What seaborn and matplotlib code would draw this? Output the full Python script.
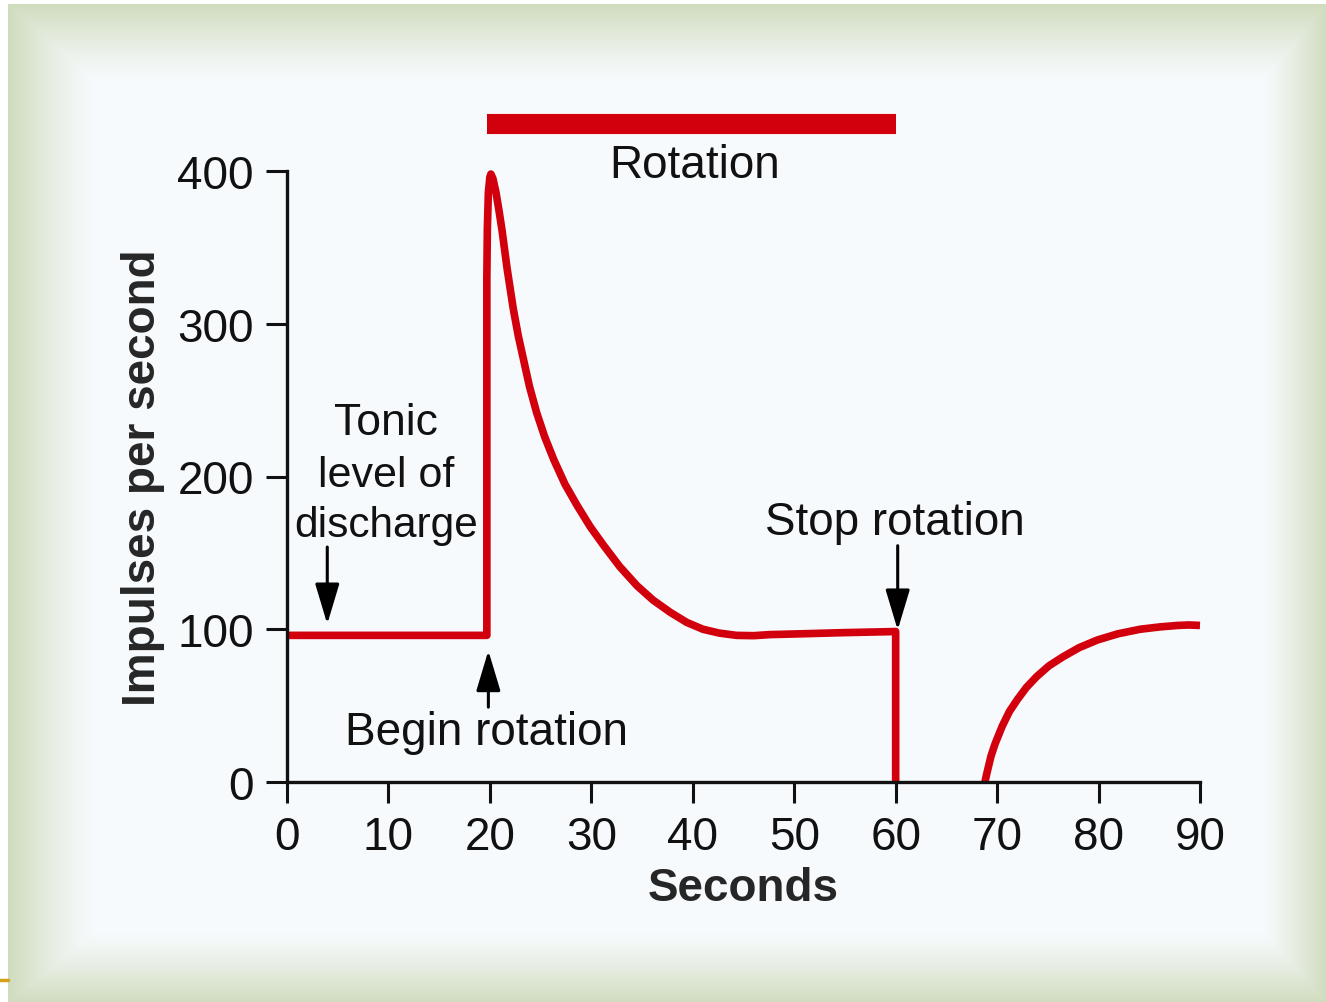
import numpy as np
import pandas as pd
import matplotlib
matplotlib.use("Agg")
import matplotlib.pyplot as plt
from matplotlib.lines import Line2D
import seaborn as sns

# ---- data ----
# segment 1: tonic level, response to rotation start, adaptation, stop
resp_t = [0, 19.7, 19.7, 19.7, 19.75, 19.85, 20.0, 20.1, 20.3, 20.6, 20.9,
          21.2, 21.7, 22.3, 22.8, 23.3, 23.9, 24.6, 25.4, 26.3, 27.4, 28.6,
          29.9, 31.2, 32.8, 34.5, 36.1, 37.8, 39.4, 41.0, 42.6, 44.3, 46.0,
          47.6, 50.6, 55.0, 60.0, 60.0]
resp_rate = [96, 96, 200, 330, 362, 386, 396, 398, 395, 386, 374,
             361, 336, 310, 292, 277, 259, 242, 226, 211, 195, 181,
             167, 155, 141, 128.5, 119, 111, 104.5, 100, 97.5, 96, 95.8,
             96.5, 97, 97.8, 98.5, 0]
# segment 2: recovery after rotation stops
rec_t = [68.8, 69.0, 69.4, 69.8, 70.5, 71.2, 72.0, 72.9, 73.9, 75.1, 76.5,
         78.1, 79.9, 81.9, 84.1, 86.0, 87.8, 88.9, 90.0]
rec_rate = [0, 6, 17, 25, 36.5, 46, 54, 62, 69, 76, 82,
            88, 93, 97, 100, 101.5, 102.5, 102.8, 102.5]

rotation_span = [19.7, 60.0]
rotation_level = 431

x_ticks = [0, 10, 20, 30, 40, 50, 60, 70, 80, 90]
y_ticks = [0, 100, 200, 300, 400]

RED = "#d2000c"
FONT = ["Liberation Sans", "DejaVu Sans"]
FS = 33

sns.set_style("ticks")
plt.rcParams["font.family"] = FONT

W, H = 1326, 1003
fig = plt.figure(figsize=(W / 100, H / 100), dpi=100)

# ---- background frame with green gradient ----
yy, xx = np.mgrid[0:H, 0:W].astype(float)
fl = np.clip((93 - xx) / (93 - 8), 0, 1)
ft = np.clip((80 - yy) / (80 - 5), 0, 1)
fr = np.clip((xx - 1263) / (W - 1263), 0, 1)
fb = np.clip((yy - 933) / (H - 933), 0, 1)
f = np.maximum.reduce([fl, ft, fr, fb]) ** 1.2
inner = np.array([247, 250, 252]) / 255
green = np.array([208, 220, 190]) / 255
img = inner[None, None, :] * (1 - f[..., None]) + green[None, None, :] * f[..., None]
white = (xx < 8) | (yy < 5)
img[white] = 1.0
bg = fig.add_axes([0, 0, 1, 1], zorder=-10)
bg.imshow(img, aspect="auto", interpolation="bilinear")
bg.axis("off")
fig.add_artist(Line2D([0, 8 / W], [1 - 981 / H] * 2, color="#d4a017", lw=2.5,
                      transform=fig.transFigure))

# ---- main axes ----
ax = fig.add_axes([287 / W, (H - 783) / H, 913 / W, 611 / H])
ax.set_facecolor("none")

df = pd.DataFrame({
    "t": resp_t + rec_t,
    "rate": resp_rate + rec_rate,
    "segment": ["response"] * len(resp_t) + ["recovery"] * len(rec_t),
})
sns.lineplot(data=df, x="t", y="rate", units="segment", estimator=None,
             sort=False, color=RED, lw=5.5, ax=ax)
for ln in ax.lines:
    ln.set_clip_on(False)
    ln.set_solid_joinstyle("round")
    ln.set_solid_capstyle("butt")

ax.set_xlim(0, 90)
ax.set_ylim(0, 400)
ax.set_xticks(x_ticks)
ax.set_yticks(y_ticks)
ax.tick_params(axis="both", direction="out", length=15, width=2.2,
               labelsize=FS, pad=9, colors="#111111")
for side in ["top", "right"]:
    ax.spines[side].set_visible(False)
for side in ["left", "bottom"]:
    ax.spines[side].set_linewidth(2.4)
    ax.spines[side].set_color("#111111")

ax.set_xlabel("Seconds", fontsize=FS, fontweight="bold", labelpad=5)
ax.set_ylabel("Impulses per second", fontsize=FS, fontweight="bold", labelpad=9)

# rotation bar
ax.plot(rotation_span, [rotation_level] * 2, color=RED, lw=14.5,
        solid_capstyle="butt", clip_on=False)
ax.text(40.2, 404, "Rotation", ha="center", va="center", fontsize=FS,
        color="#111111", clip_on=False)

# annotations
txt_kw = dict(ha="center", va="baseline", color="#111111")
ax.text(9.74, 227.8, "Tonic", fontsize=32, **txt_kw)
ax.text(9.74, 194.0, "level of", fontsize=31, **txt_kw)
ax.text(9.74, 161.2, "discharge", fontsize=30.5, **txt_kw)
ax.text(19.7, 24.6, "Begin rotation", fontsize=FS, **txt_kw)
ax.text(59.95, 162.4, "Stop rotation", fontsize=FS, **txt_kw)

arrow_kw = dict(arrowstyle="-|>,head_length=1.0,head_width=0.3",
                mutation_scale=25, lw=2.2, color="black",
                shrinkA=0, shrinkB=0)
ax.annotate("", xy=(3.97, 103.4), xytext=(3.97, 153.8), arrowprops=arrow_kw)
ax.annotate("", xy=(19.85, 86), xytext=(19.85, 49), arrowprops=arrow_kw)
ax.annotate("", xy=(60.2, 99.5), xytext=(60.2, 154.7), arrowprops=arrow_kw)

fig.savefig("out.png", dpi=100)
